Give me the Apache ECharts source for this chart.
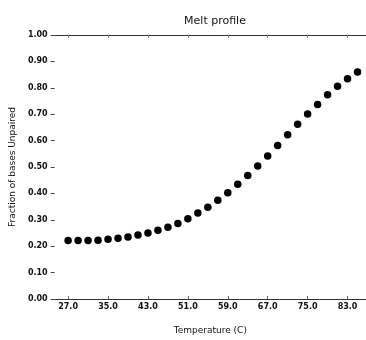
<!DOCTYPE html>
<html>
<head>
<meta charset="utf-8">
<script src="https://cdn.jsdelivr.net/npm/echarts@6/dist/echarts.min.js"></script>
<style>
  html, body { margin: 0; padding: 0; background: #fff; }
  #chart { width: 366px; height: 340px; }
</style>
</head>
<body>
<div id="chart"></div>
<script>
// Temperatures sampled every 2 degrees C
const temperatures = [27, 29, 31, 33, 35, 37, 39, 41, 43, 45, 47, 49, 51, 53, 55,
                      57, 59, 61, 63, 65, 67, 69, 71, 73, 75, 77, 79, 81, 83, 85];
// Fraction of bases unpaired at each temperature
const fractionUnpaired = [0.222, 0.222, 0.222, 0.223, 0.226, 0.230, 0.235, 0.242, 0.250, 0.260,
                          0.272, 0.286, 0.304, 0.326, 0.348, 0.374, 0.402, 0.435, 0.468, 0.504,
                          0.542, 0.581, 0.622, 0.662, 0.701, 0.737, 0.774, 0.806, 0.834, 0.860];
// Labelled temperature ticks
const xTicks = [27, 35, 43, 51, 59, 67, 75, 83];

const points = temperatures.map((t, i) => [t, fractionUnpaired[i]]);
const font = 'DejaVu Sans';
const ink = '#111';

const chart = echarts.init(document.getElementById('chart'), null, { renderer: 'canvas' });
chart.setOption({
  animation: false,
  title: {
    text: 'Melt profile',
    left: 210, top: 11, textAlign: 'center',
    textStyle: { fontFamily: font, fontSize: 11, fontWeight: 'normal', color: ink }
  },
  grid: { left: 46, right: 0, top: 35, bottom: 32 },
  xAxis: [{
    type: 'value', min: 24.3, max: 86.7,
    name: 'Temperature (C)', nameLocation: 'middle', nameGap: 27,
    nameTextStyle: { fontFamily: font, fontSize: 9, color: ink },
    splitLine: { show: false },
    axisLine: { show: true, lineStyle: { color: '#333', width: 1.2 } },
    axisTick: { show: true, inside: true, length: 3, customValues: xTicks,
                lineStyle: { color: '#666' } },
    axisLabel: { customValues: xTicks, margin: 4, fontFamily: font, fontSize: 8,
                 fontWeight: 'bold', color: ink, formatter: v => v.toFixed(1) }
  }, {
    type: 'value', min: 24.3, max: 86.7, position: 'top',
    splitLine: { show: false },
    axisLine: { show: true, lineStyle: { color: '#333', width: 1.2 } },
    axisTick: { show: true, inside: true, length: 3, customValues: xTicks,
                lineStyle: { color: '#888' } },
    axisLabel: { show: false }
  }],
  yAxis: {
    type: 'value', min: 0, max: 1, interval: 0.1,
    name: 'Fraction of bases Unpaired', nameLocation: 'middle', nameGap: 35,
    nameTextStyle: { fontFamily: font, fontSize: 9, color: ink },
    splitLine: { show: false },
    axisLine: { show: false },
    axisTick: { show: true, length: 4, lineStyle: { color: '#444' } },
    axisLabel: { margin: 7, fontFamily: font, fontSize: 8, fontWeight: 'bold',
                 color: ink, formatter: v => v.toFixed(2) }
  },
  series: [{
    type: 'scatter',
    data: points,
    symbol: 'circle',
    symbolSize: 7.5,
    itemStyle: { color: '#000', opacity: 1 }
  }]
});
</script>
</body>
</html>
